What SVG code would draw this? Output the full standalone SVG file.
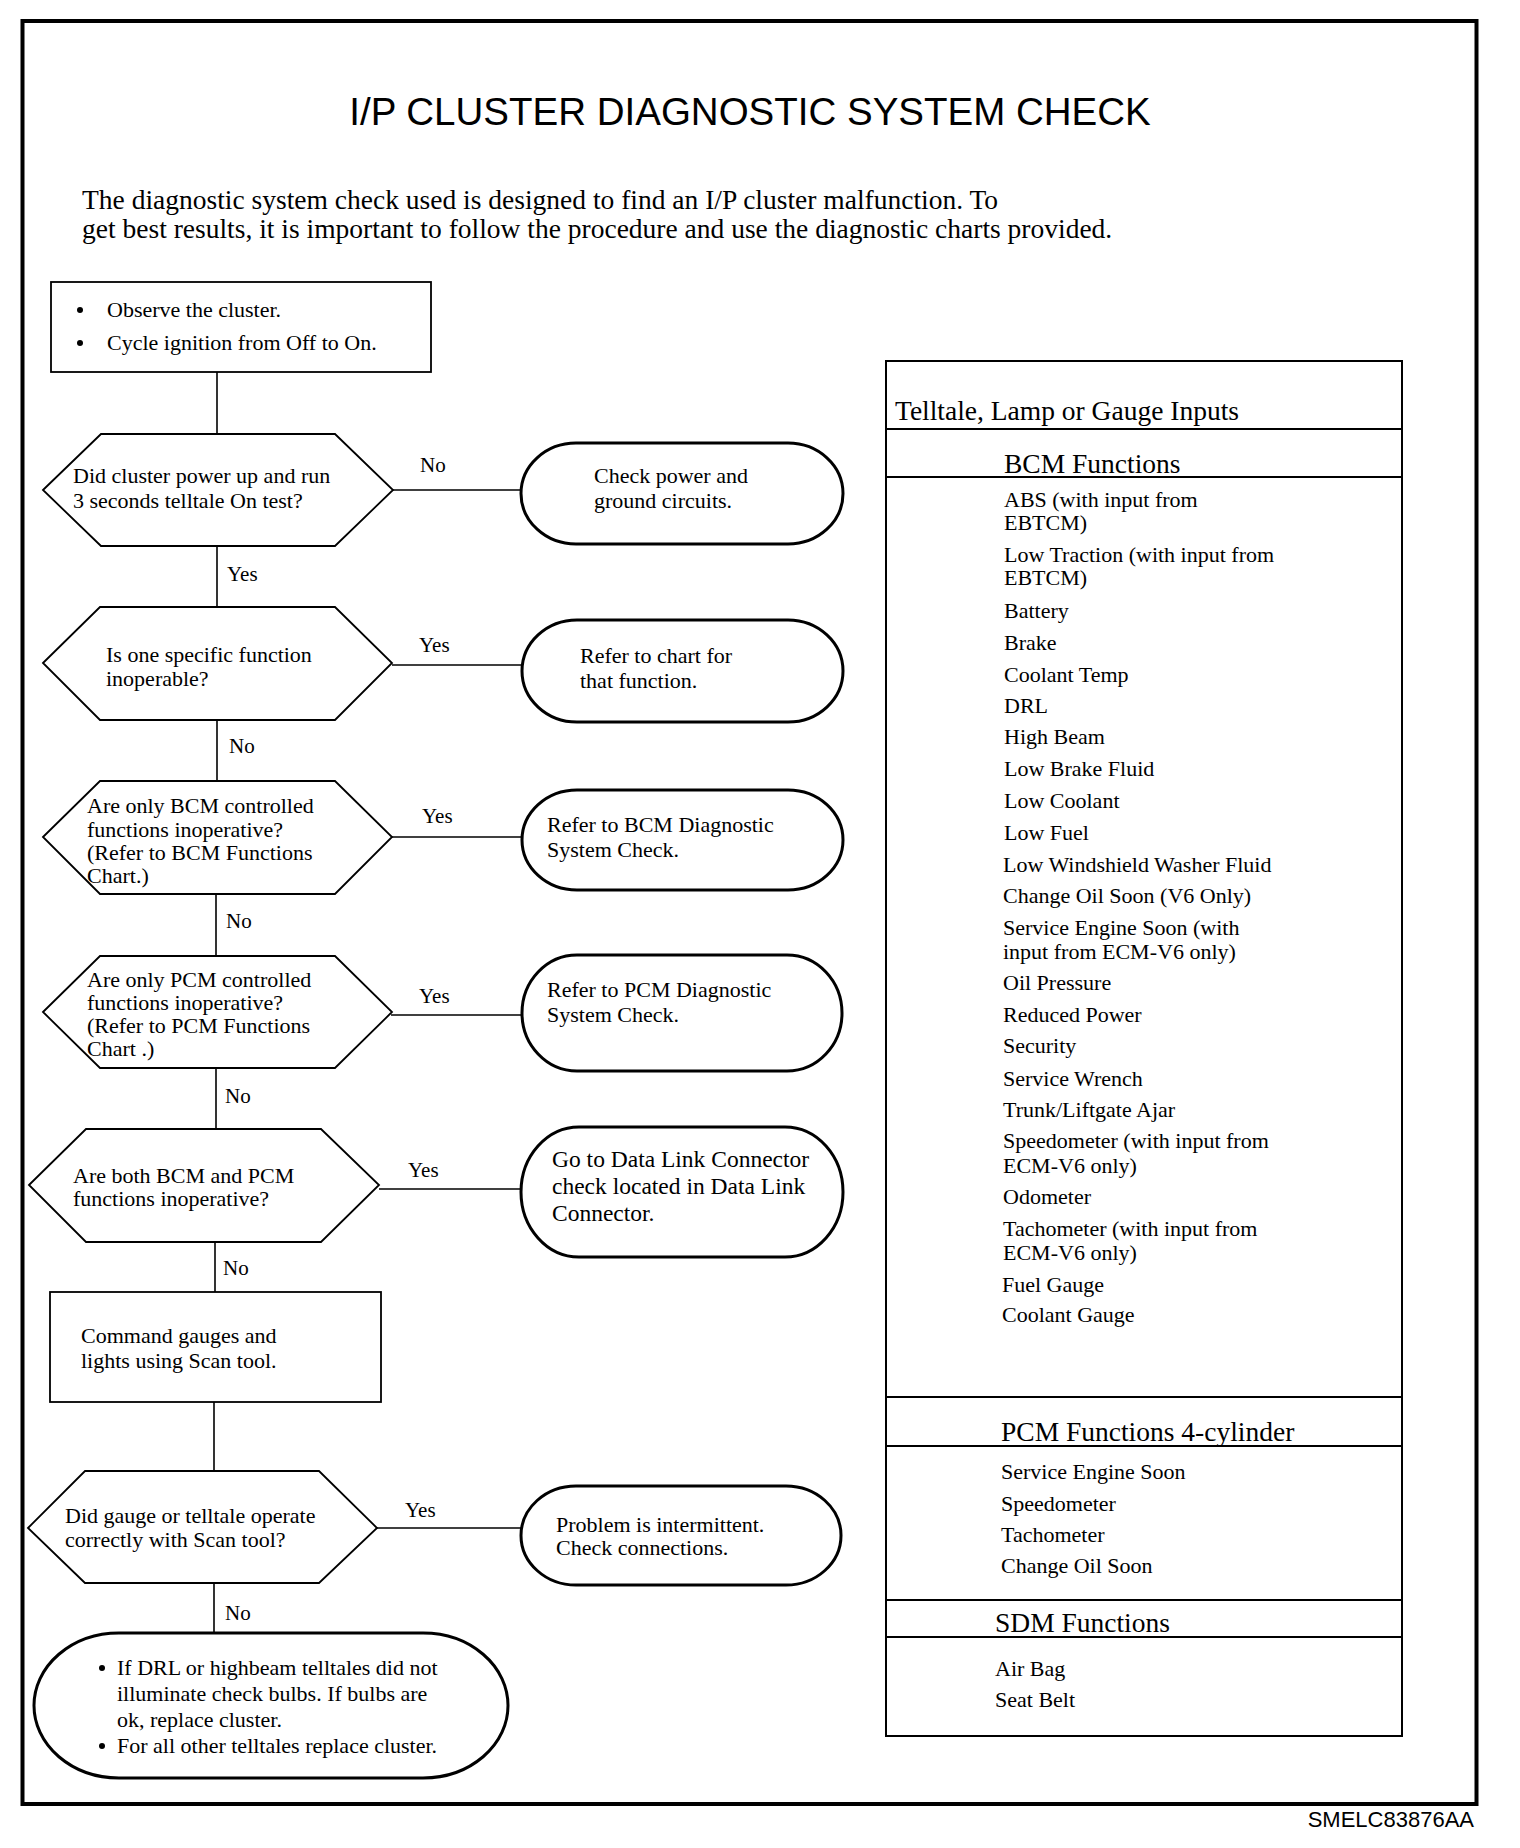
<svg xmlns="http://www.w3.org/2000/svg" width="1520" height="1848" viewBox="0 0 1520 1848">
<style>
.bg{fill:#fff}
.frame{fill:none;stroke:#000;stroke-width:4}
.shape{fill:#fff;stroke:#000;stroke-width:1.8}
.term{fill:#fff;stroke:#000;stroke-width:3}
.conn{fill:none;stroke:#000;stroke-width:1.6}
.tbl{fill:none;stroke:#000;stroke-width:2}
.tline{stroke:#000;stroke-width:2}
text{font-family:"Liberation Serif","Times New Roman",serif;fill:#000}
.t{font-size:22px}
.t5{font-size:23.5px}
.lbl{font-size:21px}
.hdr{font-size:27.5px}
.intro{font-size:27.5px}
.title{font-family:"Liberation Sans",Arial,sans-serif;font-size:38.5px}
.code{font-family:"Liberation Sans",Arial,sans-serif;font-size:22px}
.dot{fill:#000}
</style>
<rect class="bg" x="0" y="0" width="1520" height="1848"/>
<rect class="frame" x="22.5" y="21" width="1454" height="1783"/>
<text class="title" x="750" y="125" text-anchor="middle">I/P CLUSTER DIAGNOSTIC SYSTEM CHECK</text>
<text class="intro" x="82" y="209">The diagnostic system check used is designed to find an I/P cluster malfunction. To</text>
<text class="intro" x="82" y="238">get best results, it is important to follow the procedure and use the diagnostic charts provided.</text>

<g id="connectors">
<line class="conn" x1="217" y1="372" x2="217" y2="434"/>
<line class="conn" x1="217" y1="546" x2="217" y2="607"/>
<line class="conn" x1="217" y1="720" x2="217" y2="781"/>
<line class="conn" x1="216" y1="894" x2="216" y2="956"/>
<line class="conn" x1="216" y1="1068" x2="216" y2="1129"/>
<line class="conn" x1="215" y1="1242" x2="215" y2="1292"/>
<line class="conn" x1="214" y1="1402" x2="214" y2="1471"/>
<line class="conn" x1="214" y1="1583" x2="214" y2="1633"/>
<line class="conn" x1="393" y1="490" x2="521" y2="490"/>
<line class="conn" x1="392" y1="665" x2="522" y2="665"/>
<line class="conn" x1="392" y1="837" x2="522" y2="837"/>
<line class="conn" x1="391" y1="1015" x2="522" y2="1015"/>
<line class="conn" x1="379" y1="1189" x2="521" y2="1189"/>
<line class="conn" x1="377" y1="1528" x2="521" y2="1528"/>
<text class="lbl" x="420" y="472">No</text>
<text class="lbl" x="227" y="581">Yes</text>
<text class="lbl" x="419" y="652">Yes</text>
<text class="lbl" x="229" y="753">No</text>
<text class="lbl" x="422" y="823">Yes</text>
<text class="lbl" x="226" y="928">No</text>
<text class="lbl" x="419" y="1003">Yes</text>
<text class="lbl" x="225" y="1103">No</text>
<text class="lbl" x="408" y="1177">Yes</text>
<text class="lbl" x="223" y="1275">No</text>
<text class="lbl" x="405" y="1517">Yes</text>
<text class="lbl" x="225" y="1620">No</text>
</g>

<g id="start">
<rect class="shape" x="51" y="282" width="380" height="90"/>
<circle class="dot" cx="80" cy="310" r="3"/>
<circle class="dot" cx="80" cy="343" r="3"/>
<text class="t" x="107" y="317">Observe the cluster.</text>
<text class="t" x="107" y="350">Cycle ignition from Off to On.</text>
</g>

<g id="q1">
<polygon class="shape" points="43,490 101,434 335,434 393,490 335,546 101,546"/>
<text class="t" x="73" y="483">Did cluster power up and run</text>
<text class="t" x="73" y="508">3 seconds telltale On test?</text>
</g>
<g id="r1">
<rect class="term" x="521" y="443" width="322" height="101" rx="55" ry="50.5"/>
<text class="t" x="594" y="483">Check power and</text>
<text class="t" x="594" y="508">ground circuits.</text>
</g>

<g id="q2">
<polygon class="shape" points="43,663 100,607 335,607 392,663 335,720 100,720"/>
<text class="t" x="106" y="662">Is one specific function</text>
<text class="t" x="106" y="686">inoperable?</text>
</g>
<g id="r2">
<rect class="term" x="522" y="620" width="321" height="102" rx="55" ry="51"/>
<text class="t" x="580" y="663">Refer to chart for</text>
<text class="t" x="580" y="688">that function.</text>
</g>

<g id="q3">
<polygon class="shape" points="43,837 100,781 335,781 392,837 335,894 100,894"/>
<text class="t" x="87" y="813">Are only BCM controlled</text>
<text class="t" x="87" y="837">functions inoperative?</text>
<text class="t" x="87" y="860">(Refer to BCM Functions</text>
<text class="t" x="87" y="883">Chart.)</text>
</g>
<g id="r3">
<rect class="term" x="522" y="790" width="321" height="100" rx="55" ry="50"/>
<text class="t" x="547" y="832">Refer to BCM Diagnostic</text>
<text class="t" x="547" y="857">System Check.</text>
</g>

<g id="q4">
<polygon class="shape" points="43,1012 100,956 335,956 392,1012 335,1068 100,1068"/>
<text class="t" x="87" y="987">Are only PCM controlled</text>
<text class="t" x="87" y="1010">functions inoperative?</text>
<text class="t" x="87" y="1033">(Refer to PCM Functions</text>
<text class="t" x="87" y="1056">Chart .)</text>
</g>
<g id="r4">
<rect class="term" x="522" y="955" width="320" height="116" rx="55" ry="58"/>
<text class="t" x="547" y="997">Refer to PCM Diagnostic</text>
<text class="t" x="547" y="1022">System Check.</text>
</g>

<g id="q5">
<polygon class="shape" points="29,1185 86,1129 321,1129 379,1185 321,1242 86,1242"/>
<text class="t" x="73" y="1183">Are both BCM and PCM</text>
<text class="t" x="73" y="1206">functions inoperative?</text>
</g>
<g id="r5">
<rect class="term" x="521" y="1127" width="322" height="130" rx="58" ry="65"/>
<text class="t5" x="552" y="1167">Go to Data Link Connector</text>
<text class="t5" x="552" y="1194">check located in Data Link</text>
<text class="t5" x="552" y="1221">Connector.</text>
</g>

<g id="cmd">
<rect class="shape" x="50" y="1292" width="331" height="110"/>
<text class="t" x="81" y="1343">Command gauges and</text>
<text class="t" x="81" y="1368">lights using Scan tool.</text>
</g>

<g id="q6">
<polygon class="shape" points="28,1528 85,1471 319,1471 377,1528 319,1583 85,1583"/>
<text class="t" x="65" y="1523">Did gauge or telltale operate</text>
<text class="t" x="65" y="1547">correctly with Scan tool?</text>
</g>
<g id="r6">
<rect class="term" x="521" y="1486" width="320" height="99" rx="55" ry="49.5"/>
<text class="t" x="556" y="1532">Problem is intermittent.</text>
<text class="t" x="556" y="1555">Check connections.</text>
</g>

<g id="final">
<rect class="term" x="34" y="1633" width="474" height="145" rx="85" ry="72.5"/>
<circle class="dot" cx="102" cy="1668" r="3"/>
<circle class="dot" cx="102" cy="1746" r="3"/>
<text class="t" x="117" y="1675">If DRL or highbeam telltales did not</text>
<text class="t" x="117" y="1701">illuminate check bulbs. If bulbs are</text>
<text class="t" x="117" y="1727">ok, replace cluster.</text>
<text class="t" x="117" y="1753">For all other telltales replace cluster.</text>
</g>

<g id="table">
<rect class="tbl" x="886" y="361" width="516" height="1375"/>
<text class="hdr" x="895" y="420">Telltale, Lamp or Gauge Inputs</text>
<line class="tline" x1="886" y1="429" x2="1402" y2="429"/>
<text class="hdr" x="1004" y="473">BCM Functions</text>
<line class="tline" x1="886" y1="477" x2="1402" y2="477"/>
<text class="t" x="1004" y="507">ABS (with input from</text>
<text class="t" x="1004" y="530">EBTCM)</text>
<text class="t" x="1004" y="562">Low Traction (with input from</text>
<text class="t" x="1004" y="585">EBTCM)</text>
<text class="t" x="1004" y="618">Battery</text>
<text class="t" x="1004" y="650">Brake</text>
<text class="t" x="1004" y="682">Coolant Temp</text>
<text class="t" x="1004" y="713">DRL</text>
<text class="t" x="1004" y="744">High Beam</text>
<text class="t" x="1004" y="776">Low Brake Fluid</text>
<text class="t" x="1004" y="808">Low Coolant</text>
<text class="t" x="1004" y="840">Low Fuel</text>
<text class="t" x="1003" y="872">Low Windshield Washer Fluid</text>
<text class="t" x="1003" y="903">Change Oil Soon (V6 Only)</text>
<text class="t" x="1003" y="935">Service Engine Soon (with</text>
<text class="t" x="1003" y="959">input from ECM-V6 only)</text>
<text class="t" x="1003" y="990">Oil Pressure</text>
<text class="t" x="1003" y="1022">Reduced Power</text>
<text class="t" x="1003" y="1053">Security</text>
<text class="t" x="1003" y="1086">Service Wrench</text>
<text class="t" x="1003" y="1117">Trunk/Liftgate Ajar</text>
<text class="t" x="1003" y="1148">Speedometer (with input from</text>
<text class="t" x="1003" y="1173">ECM-V6 only)</text>
<text class="t" x="1003" y="1204">Odometer</text>
<text class="t" x="1003" y="1236">Tachometer (with input from</text>
<text class="t" x="1003" y="1260">ECM-V6 only)</text>
<text class="t" x="1002" y="1292">Fuel Gauge</text>
<text class="t" x="1002" y="1322">Coolant Gauge</text>
<line class="tline" x1="886" y1="1397" x2="1402" y2="1397"/>
<text class="hdr" x="1001" y="1441">PCM Functions 4-cylinder</text>
<line class="tline" x1="886" y1="1446" x2="1402" y2="1446"/>
<text class="t" x="1001" y="1479">Service Engine Soon</text>
<text class="t" x="1001" y="1511">Speedometer</text>
<text class="t" x="1001" y="1542">Tachometer</text>
<text class="t" x="1001" y="1573">Change Oil Soon</text>
<line class="tline" x1="886" y1="1600" x2="1402" y2="1600"/>
<text class="hdr" x="995" y="1632">SDM Functions</text>
<line class="tline" x1="886" y1="1637" x2="1402" y2="1637"/>
<text class="t" x="995" y="1676">Air Bag</text>
<text class="t" x="995" y="1707">Seat Belt</text>
</g>

<text class="code" x="1474" y="1827" text-anchor="end">SMELC83876AA</text>
</svg>
